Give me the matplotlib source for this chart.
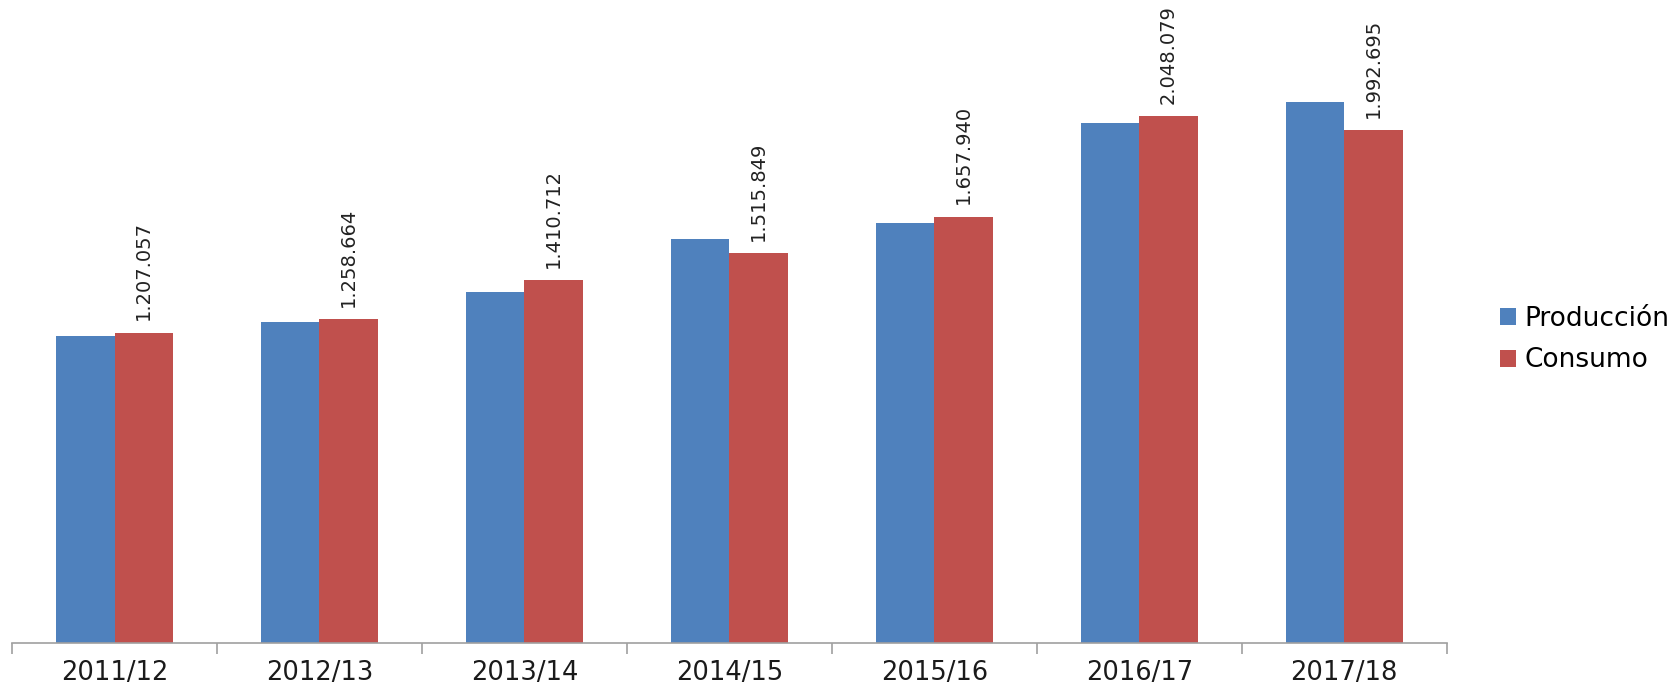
import numpy as np
import matplotlib.pyplot as plt

campanas = ['2011/12', '2012/13', '2013/14', '2014/15', '2015/16', '2016/17', '2017/18']
produccion = [1195000, 1248000, 1365000, 1572000, 1634000, 2020000, 2103000]
consumo = [1207057, 1258664, 1410712, 1515849, 1657940, 2048079, 1992695]
etiquetas = ['1.207.057', '1.258.664', '1.410.712', '1.515.849', '1.657.940', '2.048.079', '1.992.695']

azul = '#4F81BD'
rojo = '#C0504D'

fig = plt.figure(figsize=(16.74, 6.85), dpi=100)
ax = fig.add_axes([0.0072, 0.0613, 0.857, 0.9387])

x = np.arange(len(campanas))
w = 1 / 3.5
ax.bar(x - w / 2, produccion, w, color=azul, label='Producción')
ax.bar(x + w / 2, consumo, w, color=rojo, label='Consumo')

for xi, v, t in zip(x, consumo, etiquetas):
    ax.annotate(t, (xi + w / 2, v), xytext=(0, 9), textcoords='offset points',
                rotation=90, ha='center', va='bottom', fontsize=14,
                color='#222222')

ax.set_xlim(-0.5, len(campanas) - 0.5)
ax.set_ylim(0, 2500000)
ax.set_yticks([])
for s in ['top', 'right', 'left']:
    ax.spines[s].set_visible(False)
ax.spines['bottom'].set_color('#A0A0A0')
ax.spines['bottom'].set_linewidth(1.2)

ax.set_xticks(x)
ax.set_xticklabels(campanas, fontsize=18.5, color='#1a1a1a')
ax.tick_params(axis='x', which='major', length=0, pad=12)
ax.set_xticks(np.arange(-0.5, len(campanas)), minor=True)
ax.tick_params(axis='x', which='minor', length=8, color='#A0A0A0', width=1.2)

ax.legend(loc='center left', bbox_to_anchor=(1.037, 0.472), frameon=False,
          fontsize=19, handlelength=0.6, handleheight=0.6, handletextpad=0.35,
          labelspacing=0.6, borderpad=0, borderaxespad=0)

fig.savefig('out.png', dpi=100)
